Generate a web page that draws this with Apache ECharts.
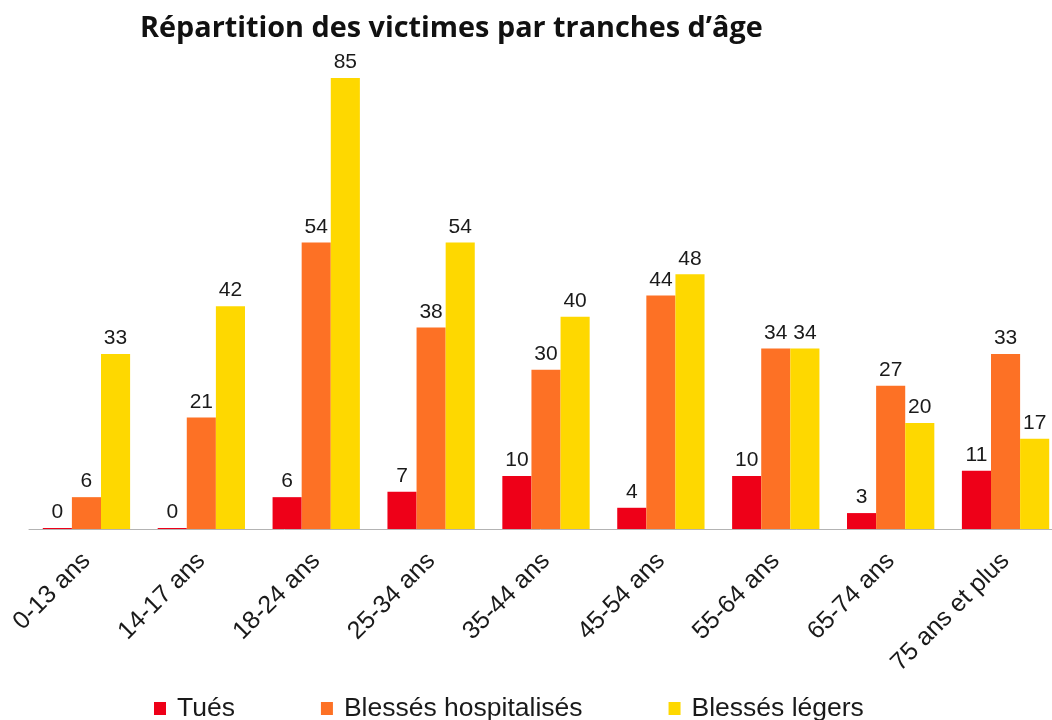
<!DOCTYPE html>
<html>
<head>
<meta charset="utf-8">
<script src="https://cdn.jsdelivr.net/npm/echarts@6/dist/echarts.min.js"></script>
<style>
    html, body { margin: 0; padding: 0; background: #fff; }
    #chart { width: 1052px; height: 720px; }
</style>
</head>
<body>
<div id="chart"></div>
<script>
    // tranches d'âge
    var categories = ['0-13 ans', '14-17 ans', '18-24 ans', '25-34 ans', '35-44 ans',
        '45-54 ans', '55-64 ans', '65-74 ans', '75 ans et plus'];
    var tues = [0, 0, 6, 7, 10, 4, 10, 3, 11];
    var hospitalises = [6, 21, 54, 38, 30, 44, 34, 27, 33];
    var legers = [33, 42, 85, 54, 40, 48, 34, 20, 17];

    var labelStyle = {
        show: true,
        position: 'top',
        distance: 5,
        fontFamily: 'Liberation Sans',
        fontSize: 21,
        color: '#1a1a1a'
    };

    var myChart = echarts.init(document.getElementById('chart'));
    myChart.setOption({
        animation: false,
        title: {
            text: 'Répartition des victimes par tranches d’âge',
            left: 135,
            top: 9,
            textStyle: {
                fontFamily: 'Open Sans',
                fontWeight: 'bold',
                fontSize: 28.8,
                color: '#111'
            }
        },
        legend: {
            left: 149,
            bottom: -7,
            icon: 'rect',
            itemWidth: 12,
            itemHeight: 13,
            itemGap: 86,
            textStyle: {
                fontFamily: 'Liberation Sans',
                fontSize: 26.5,
                color: '#1a1a1a',
                padding: [0, 0, 0, 6]
            },
            data: ['Tués', 'Blessés hospitalisés', 'Blessés légers']
        },
        grid: {
            left: 29,
            right: -11,
            top: 78,
            bottom: 191,
            outerBoundsMode: 'none'
        },
        xAxis: {
            type: 'category',
            data: categories,
            axisLine: { lineStyle: { color: '#b3b3b3', width: 1 } },
            axisTick: { length: 10, lineStyle: { color: '#b3b3b3' } },
            axisLabel: {
                rotate: 45,
                margin: 28,
                interval: 0,
                fontFamily: 'Liberation Sans',
                fontSize: 25,
                color: '#1a1a1a'
            }
        },
        yAxis: {
            type: 'value',
            min: 0,
            max: 85,
            show: false,
            splitLine: { show: false }
        },
        series: [
            {
                name: 'Tués',
                type: 'bar',
                data: tues,
                barGap: 0,
                barCategoryGap: '24%',
                barMinHeight: 1,
                itemStyle: { color: '#ee0018' },
                label: labelStyle
            },
            {
                name: 'Blessés hospitalisés',
                type: 'bar',
                data: hospitalises,
                barGap: 0,
                barCategoryGap: '24%',
                itemStyle: { color: '#fd7125' },
                label: labelStyle
            },
            {
                name: 'Blessés légers',
                type: 'bar',
                data: legers,
                barGap: 0,
                barCategoryGap: '24%',
                itemStyle: { color: '#fed800' },
                label: labelStyle
            }
        ]
    });
</script>
</body>
</html>
